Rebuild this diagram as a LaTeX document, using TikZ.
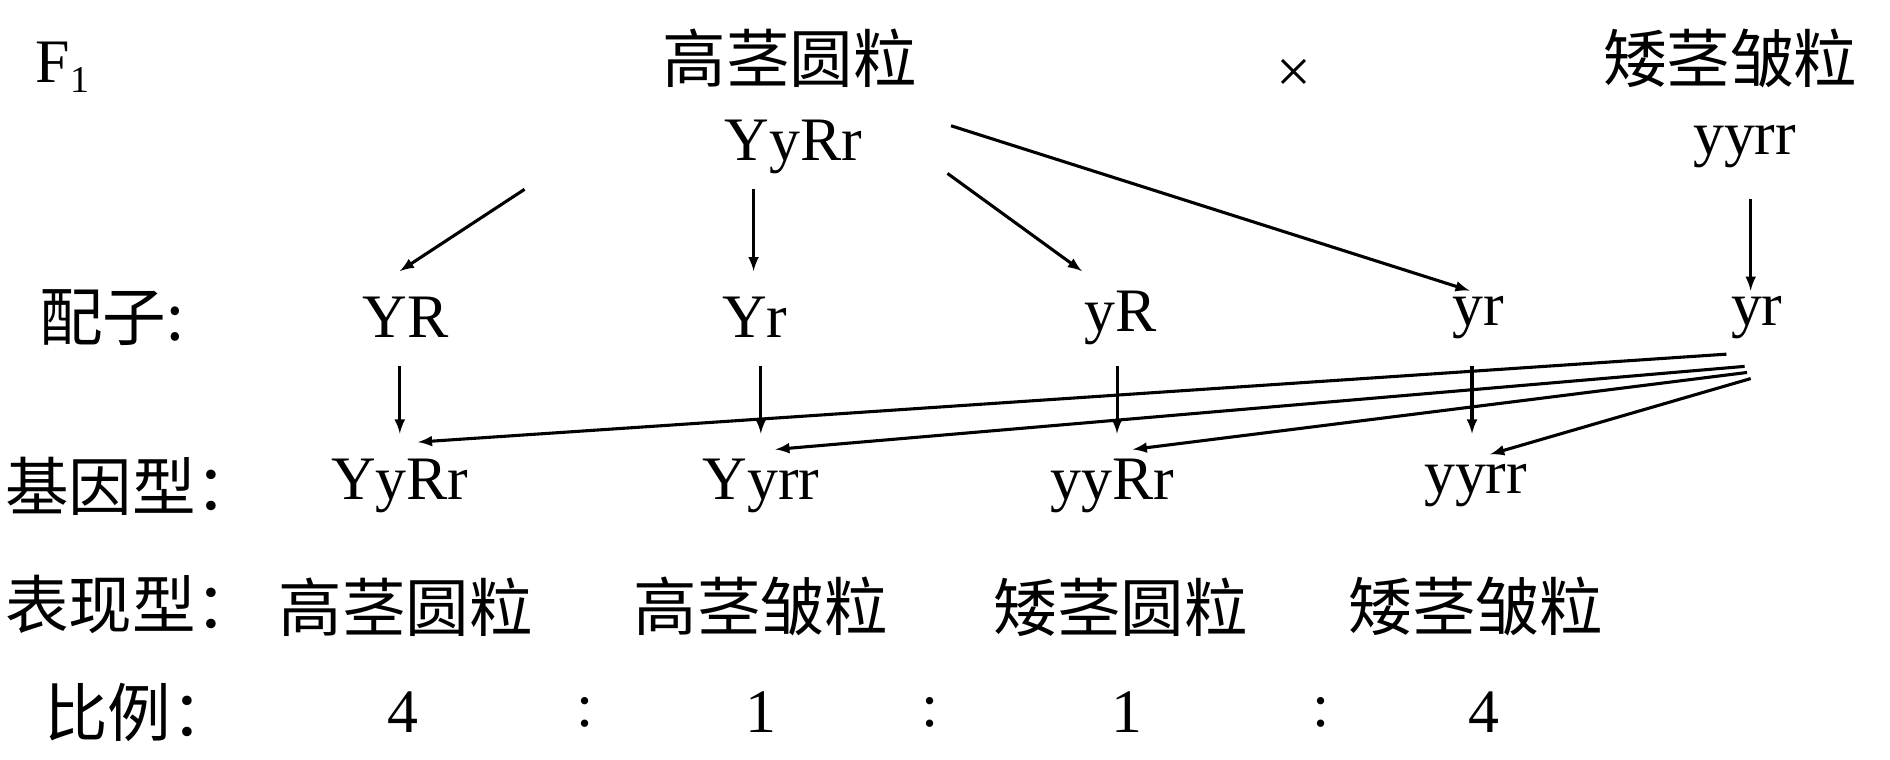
\documentclass[tikz,border=0pt]{standalone}
\usepackage{fontspec}
\setmainfont{Liberation Serif}
\newfontfamily\cjk{Noto Sans CJK SC}
\usetikzlibrary{positioning}
\tikzset{
	every node/.style={align=center, inner sep=0pt, font=\fontsize{36}{42}\selectfont},
	zh/.style={font=\fontsize{37}{42}\selectfont\cjk},
	arr/.style={-latex, line width=1.8pt},
}
\begin{document}
\begin{tikzpicture}[x=0.0248cm, y=-0.025cm]
	\useasboundingbox (0,0) rectangle (1560,622);
	
	% parents
	\node (F) at (52,55) {F\textsubscript{\fontsize{22}{24}\selectfont 1}};
	\node[zh] (P1) at (652,48) {高茎圆粒};
	\node (g1) at (655,120) {YyRr};
	\node (x) at (1068,62) {×};
	\node[zh] (P2) at (1428,48) {矮茎皱粒};
	\node (g2) at (1440,120) {yyrr};
	
	% gametes
	\node[zh] (lab-gam) at (92,260) {配子:};
	\node (YR) at (335,260) {YR};
	\node (Yr) at (623,260) {Yr};
	\node (yR) at (925,260) {yR};
	\node (yr) at (1220,260) {yr};
	\node (yr2) at (1450,260) {yr};
	
	% genotypes
	\node[zh,anchor=west] (lab-gen) at (4,398) {基因型：};
	\node (G1) at (330,398) {YyRr};
	\node (G2) at (628,398) {Yyrr};
	\node (G3) at (918,398) {yyRr};
	\node (G4) at (1218,398) {yyrr};
	
	% phenotypes
	\node[zh,anchor=west] (lab-phe) at (4,495) {表现型：};
	\node[zh] (H1) at (335,497) {高茎圆粒};
	\node[zh] (H2) at (628,497) {高茎皱粒};
	\node[zh] (H3) at (925,497) {矮茎圆粒};
	\node[zh] (H4) at (1218,497) {矮茎皱粒};
	
	% ratio
	\node[zh] (lab-rat) at (115,583) {比例：};
	\node (r1) at (333,583) {4};
	\node (c1) at (483,583) {:};
	\node (r2) at (628,583) {1};
	\node (c2) at (768,583) {:};
	\node (r3) at (930,583) {1};
	\node (c3) at (1090,583) {:};
	\node (r4) at (1225,583) {4};
	
	% arrow ends
	\coordinate (a1) at (433,155);
	\coordinate (a2) at (622,155);
	\coordinate (a3) at (782,142);
	\coordinate (a4) at (785,103);
	\coordinate (a5) at (1445,163);
	\draw[arr] (a1) -- (330,222);
	\draw[arr] (a2) -- (622,222);
	\draw[arr] (a3) -- (893,222);
	\draw[arr] (a4) -- (1213,238);
	\draw[arr] (a5) -- (1445,238);
	
	\foreach \x in {330,628,922,1215}
		\draw[arr] (\x,300) -- (\x,355);
	
	\coordinate (m1) at (1425,290);
	\coordinate (m2) at (1440,300);
	\coordinate (m3) at (1442,305);
	\coordinate (m4) at (1445,310);
	\draw[arr] (m1) -- (345,362);
	\draw[arr] (m2) -- (640,368);
	\draw[arr] (m3) -- (935,368);
	\draw[arr] (m4) -- (1230,372);
\end{tikzpicture}
\end{document}
